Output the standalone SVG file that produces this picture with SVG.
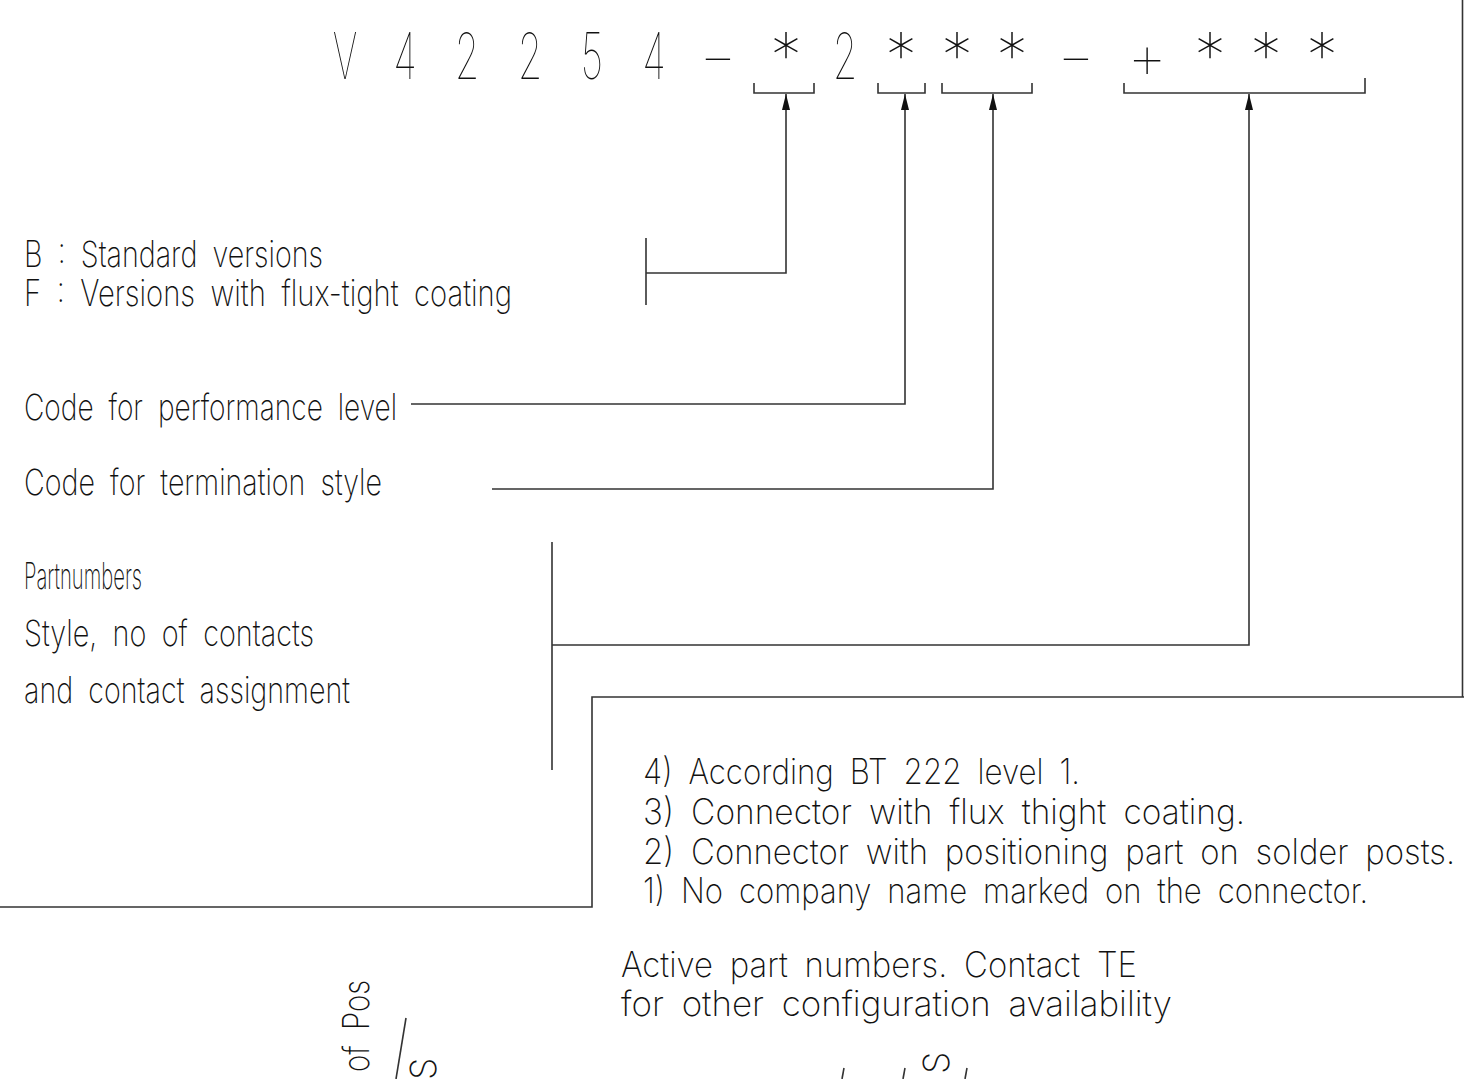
<svg xmlns="http://www.w3.org/2000/svg" width="1464" height="1079" viewBox="0 0 1464 1079">
<defs>
<style>
.pn{font-family:"Inter","Roboto","DejaVu Sans",sans-serif;font-weight:100;font-size:64px;fill:#111;text-anchor:middle}
.lbl{font-family:"Inter","Roboto","DejaVu Sans",sans-serif;font-weight:200;font-size:36px;fill:#111;word-spacing:9px}
.note{font-family:"Inter","Roboto","DejaVu Sans",sans-serif;font-weight:200;font-size:35px;fill:#111;word-spacing:8px}
.ln{fill:none;stroke:#333;stroke-width:1.6}
</style>
<marker id="ah" viewBox="0 0 16 8" refX="16" refY="4" markerWidth="16" markerHeight="8" markerUnits="userSpaceOnUse" orient="auto">
<path d="M0 0 L16 4 L0 8 Z" fill="#111"/>
</marker>
</defs>
<rect width="1464" height="1079" fill="#fff"/>
<g id="partnumber">
<text class="pn" transform="translate(345,79) scale(0.6,1)">V</text>
<text class="pn" transform="translate(405,79) scale(0.62,1)">4</text>
<text class="pn" transform="translate(467,79) scale(0.62,1)">2</text>
<text class="pn" transform="translate(530,79) scale(0.62,1)">2</text>
<text class="pn" transform="translate(592,79) scale(0.62,1)">5</text>
<text class="pn" transform="translate(654,79) scale(0.62,1)">4</text>
<text class="pn" transform="translate(718,79) scale(1.4,1)">-</text>
<text class="pn" transform="translate(786,79)">*</text>
<text class="pn" transform="translate(845,79) scale(0.62,1)">2</text>
<text class="pn" transform="translate(901,79)">*</text>
<text class="pn" transform="translate(957,79)">*</text>
<text class="pn" transform="translate(1012,79)">*</text>
<text class="pn" transform="translate(1076,79) scale(1.4,1)">-</text>
<text class="pn" transform="translate(1147,79)">+</text>
<text class="pn" transform="translate(1210,79)">*</text>
<text class="pn" transform="translate(1266,79)">*</text>
<text class="pn" transform="translate(1322,79)">*</text>
</g>
<g id="brackets">
<path class="ln" d="M754 83 V93 H814 V83"/>
<path class="ln" d="M878 83 V93 H925 V83"/>
<path class="ln" d="M942 83 V93 H1032 V83"/>
<path class="ln" d="M1124 83 V93 H1365 V78"/>
</g>
<g id="node-version">
<text class="lbl" x="24" y="267" textLength="299" lengthAdjust="spacingAndGlyphs">B : Standard versions</text>
<text class="lbl" x="24" y="306" textLength="488" lengthAdjust="spacingAndGlyphs">F : Versions with flux-tight coating</text>
<line class="ln" x1="646" y1="238" x2="646" y2="305"/>
</g>
<g id="node-performance">
<text class="lbl" x="24" y="420" textLength="373" lengthAdjust="spacingAndGlyphs">Code for performance level</text>
</g>
<g id="node-termination">
<text class="lbl" x="24" y="495" textLength="358" lengthAdjust="spacingAndGlyphs">Code for termination style</text>
</g>
<g id="node-style">
<text class="lbl" x="24" y="589" font-size="24" textLength="118" lengthAdjust="spacingAndGlyphs">Partnumbers</text>
<text class="lbl" x="24" y="646" textLength="290" lengthAdjust="spacingAndGlyphs">Style, no of contacts</text>
<text class="lbl" x="24" y="703" textLength="326" lengthAdjust="spacingAndGlyphs">and contact assignment</text>
<line class="ln" x1="552" y1="542" x2="552" y2="770"/>
</g>
<g id="connectors">
<path class="ln" d="M646 273 H786 V94" marker-end="url(#ah)"/>
<path class="ln" d="M411 404 H905 V94" marker-end="url(#ah)"/>
<path class="ln" d="M492 489 H993 V94" marker-end="url(#ah)"/>
<path class="ln" d="M552 645 H1249 V94" marker-end="url(#ah)"/>
</g>
<g id="notes-box">
<path class="ln" d="M1462.5 0 V697"/>
<path class="ln" d="M1464 697 H592 V907 H0"/>
<text class="note" x="643" y="784" textLength="437" lengthAdjust="spacingAndGlyphs">4) According BT 222 level 1.</text>
<text class="note" x="643" y="824" textLength="602" lengthAdjust="spacingAndGlyphs">3) Connector with flux thight coating.</text>
<text class="note" x="643" y="864" textLength="812" lengthAdjust="spacingAndGlyphs">2) Connector with positioning part on solder posts.</text>
<text class="note" x="643" y="903" textLength="725" lengthAdjust="spacingAndGlyphs">1) No company name marked on the connector.</text>
</g>
<g id="active-note">
<text class="note" x="621" y="977" textLength="516" lengthAdjust="spacingAndGlyphs">Active part numbers. Contact TE</text>
<text class="note" x="621" y="1016" textLength="551" lengthAdjust="spacingAndGlyphs">for other configuration availability</text>
</g>
<g id="bottom-fragments">
<text class="lbl" font-size="30" transform="translate(369,1072) rotate(-90)" textLength="92" lengthAdjust="spacingAndGlyphs">of Pos</text>
<line class="ln" x1="406" y1="1018" x2="396" y2="1079"/>
<text class="lbl" font-size="30" transform="translate(436,1080) rotate(-90)">S</text>
<line class="ln" x1="844" y1="1068" x2="842" y2="1079"/>
<line class="ln" x1="905" y1="1068" x2="903" y2="1079"/>
<text class="lbl" font-size="24" transform="translate(949,1074) rotate(-90)">S</text>
<line class="ln" x1="967" y1="1068" x2="965" y2="1079"/>
</g>
</svg>
